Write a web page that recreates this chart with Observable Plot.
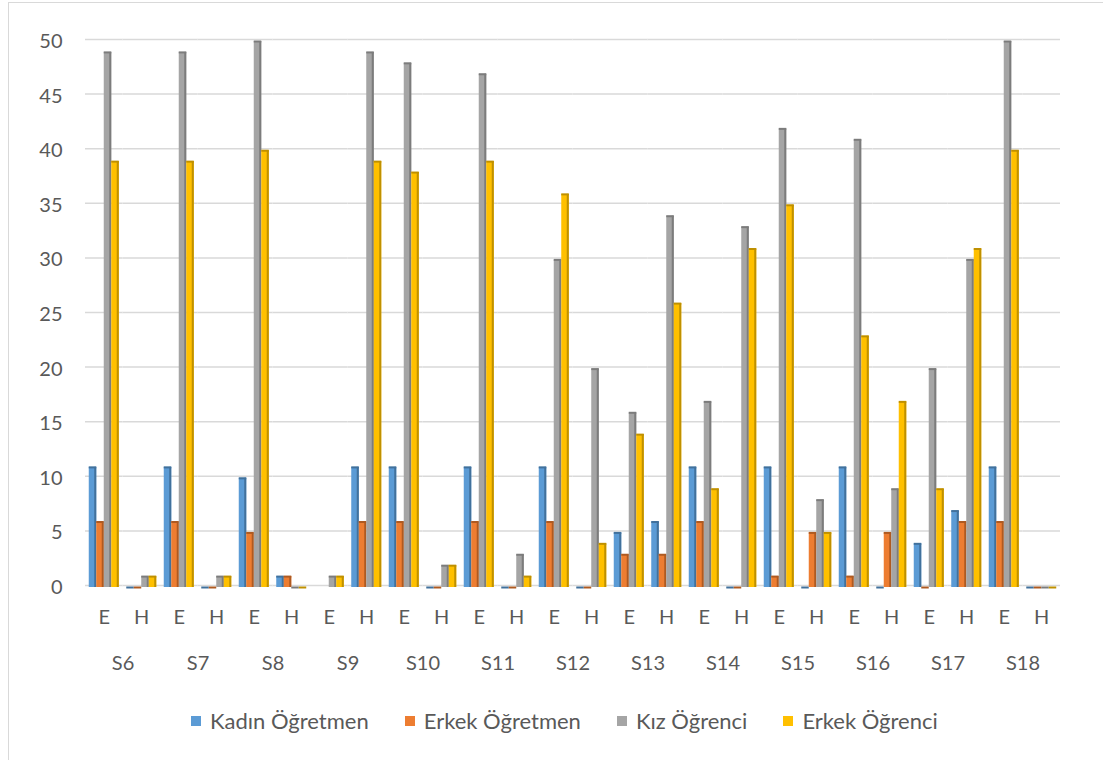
<!DOCTYPE html>
<html>
<head>
<meta charset="utf-8">
<script src="https://cdn.jsdelivr.net/npm/d3@7"></script>
<script src="https://cdn.jsdelivr.net/npm/@observablehq/plot@0.6"></script>
<style>
  html, body { margin: 0; padding: 0; background: #fff; }
  #wrap { position: relative; width: 1103px; height: 760px; overflow: hidden; font-family: Lato, "Open Sans", sans-serif; }
  #frame { position: absolute; left: 8px; top: 2px; width: 1200px; height: 900px; border: 1.5px solid #d9d9d9; box-sizing: border-box; }
  #chart { position: absolute; left: 0; top: 0; }
  #legend { position: absolute; left: 191px; top: 707px; display: flex; gap: 36px; font-size: 22px; color: #595959; }
  #legend .item { display: flex; align-items: center; gap: 9px; }
  #legend .sw { width: 10px; height: 10px; display: inline-block; }
</style>
</head>
<body>
<div id="wrap">
  <div id="frame"></div>
  <div id="chart"></div>
  <div id="legend"></div>
</div>
<script>
// School groups, each split into E and H
const groups = ["S6", "S7", "S8", "S9", "S10", "S11", "S12", "S13", "S14", "S15", "S16", "S17", "S18"];
const subs = ["E", "H"];
const seriesNames = ["Kadın Öğretmen", "Erkek Öğretmen", "Kız Öğrenci", "Erkek Öğrenci"];
const yTicks = [0, 5, 10, 15, 20, 25, 30, 35, 40, 45, 50];

// Values in order S6 E, S6 H, S7 E, S7 H, ... S18 E, S18 H (null = no entry)
const kadinOgretmen = [11, 0, 11, 0, 10, 1, null, 11, 11, 0, 11, 0, 11, 0, 5, 6, 11, 0, 11, 0, 11, 0, 4, 7, 11, 0];
const erkekOgretmen = [6, 0, 6, 0, 5, 1, null, 6, 6, 0, 6, 0, 6, 0, 3, 3, 6, 0, 1, 5, 1, 5, 0, 6, 6, 0];
const kizOgrenci    = [49, 1, 49, 1, 50, 0, 1, 49, 48, 2, 47, 3, 30, 20, 16, 34, 17, 33, 42, 8, 41, 9, 20, 30, 50, 0];
const erkekOgrenci  = [39, 1, 39, 1, 40, 0, 1, 39, 38, 2, 39, 1, 36, 4, 14, 26, 9, 31, 35, 5, 23, 17, 9, 31, 40, 0];

const faceColors = ["#5B9BD5", "#ED7D31", "#A5A5A5", "#FFC000"];
const sideColors = ["#41719C", "#AE5A21", "#7C7C7C", "#BF9000"];

const keys = groups.flatMap(g => subs.map(s => `${g}|${s}`));
const seriesValues = [kadinOgretmen, erkekOgretmen, kizOgrenci, erkekOgrenci];

const rows = [];
seriesValues.forEach((vals, si) => {
  vals.forEach((v, i) => {
    if (v == null) return;
    rows.push({key: keys[i], series: seriesNames[si], value: v});
  });
});

const textColor = "#595959";
// Each column: front face, a darker right side, and a top edge (also shows zero values as stubs)
const barMarks = seriesNames.flatMap((name, si) => {
  const data = rows.filter(r => r.series === name);
  return [
    Plot.barY(data, {fx: "key", x: "series", y: "value", fill: faceColors[si]}),
    Plot.barY(data, {fx: "key", x: "series", y: "value", fill: sideColors[si], insetLeft: 5.5}),
    Plot.tickY(data, {fx: "key", x: "series", y: "value", stroke: sideColors[si], strokeWidth: 2})
  ];
});

const chart = Plot.plot({
  width: 1103,
  height: 680,
  marginLeft: 85,
  marginRight: 43,
  marginTop: 41,
  marginBottom: 93,
  style: {fontFamily: "Lato, 'Open Sans', sans-serif", color: textColor, background: "transparent"},
  fx: {domain: keys, padding: 0, round: false, label: null},
  x: {domain: seriesNames, paddingInner: 0, paddingOuter: 0.5, round: false, axis: null},
  y: {domain: [0, 50], label: null},
  marks: [
    Plot.gridY(yTicks, {stroke: "#d9d9d9", strokeOpacity: 1, strokeWidth: 1.5, dy: -2}),
    Plot.axisY(yTicks, {tickSize: 0, tickPadding: 23, fontSize: 20, fill: textColor, label: null}),
    Plot.axisFx({anchor: "bottom", tickSize: 0, tickPadding: 22, fontSize: 20, fill: textColor, label: null,
      tickFormat: d => d.split("|")[1]}),
    ...barMarks,
    Plot.text(groups, {fx: d => `${d}|E`, text: d => d, frameAnchor: "bottom", dx: 18.75, dy: 76,
      lineAnchor: "middle", fontSize: 20, fill: textColor})
  ]
});
document.getElementById("chart").appendChild(chart);

const legend = document.getElementById("legend");
seriesNames.forEach((name, i) => {
  const item = document.createElement("div");
  item.className = "item";
  const sw = document.createElement("span");
  sw.className = "sw";
  sw.style.background = faceColors[i];
  const label = document.createElement("span");
  label.textContent = name;
  item.appendChild(sw);
  item.appendChild(label);
  legend.appendChild(item);
});
</script>
</body>
</html>
